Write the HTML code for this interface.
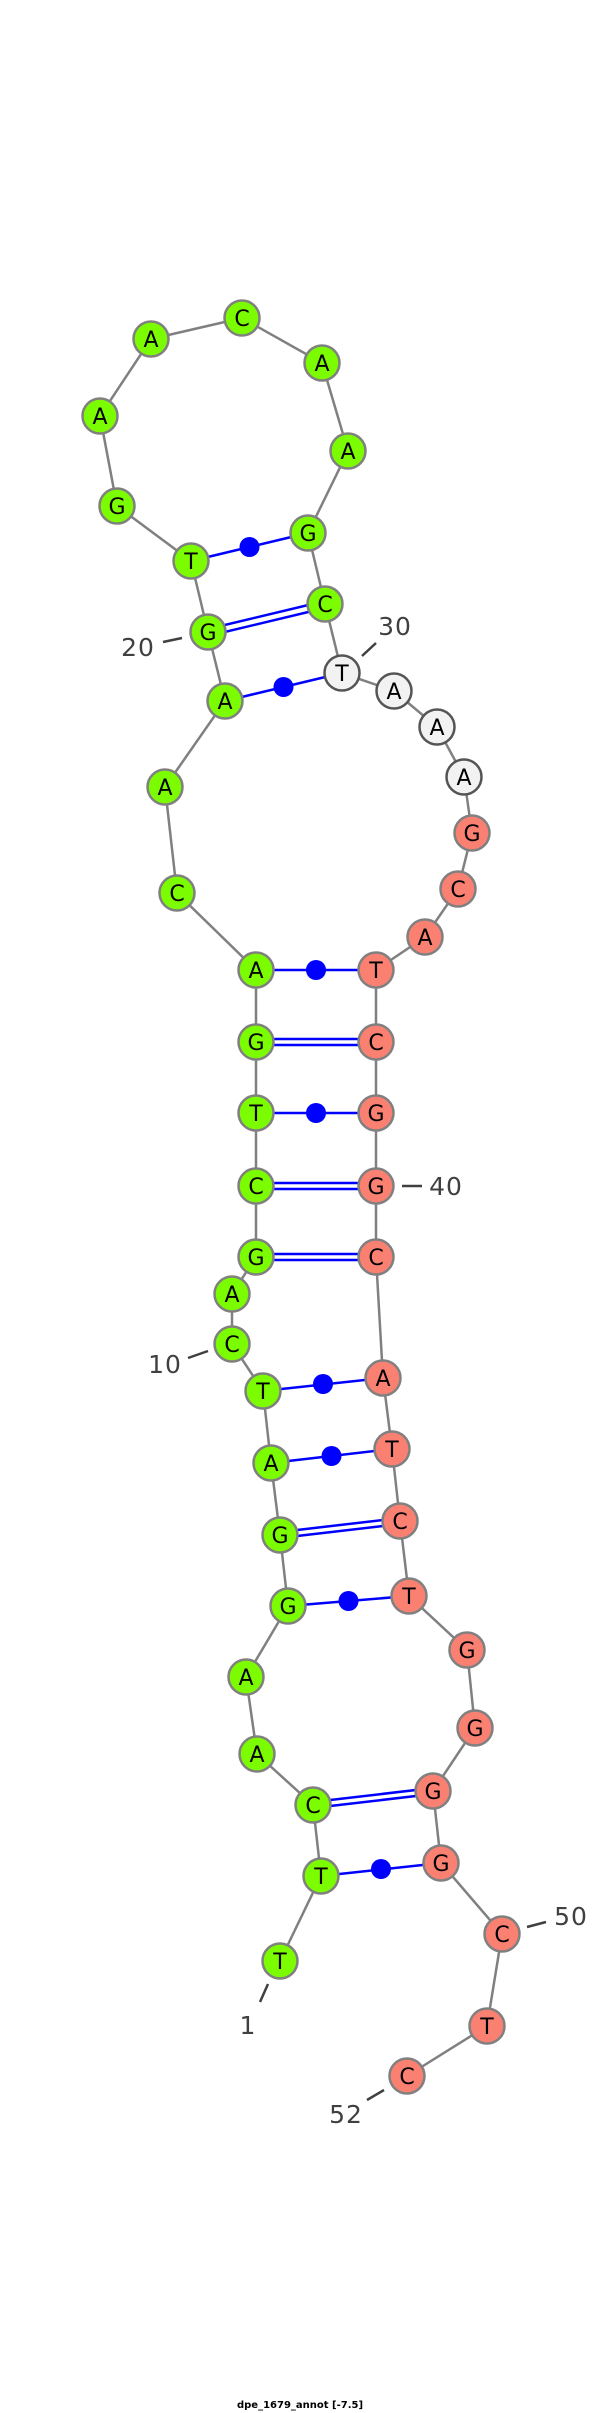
<!DOCTYPE html>
<html><head><meta charset="utf-8"><style>html,body{margin:0;padding:0;background:#fff}svg{display:block}</style></head>
<body>
<svg width="600" height="2413" viewBox="0 0 600 2413" xmlns="http://www.w3.org/2000/svg">
<polyline fill="none" stroke="#808080" stroke-width="2.5" points="280,1961 321,1876 313,1805 257,1754 246,1677 288,1606 280,1535 271,1463 263,1391 232,1344 232,1294 256,1257 256,1186 256,1113 256,1042 256,970 177,893 165,787 225,701 208,632 191,561 117,506 100,416 151,339 242,318 322,363 348,451 308,533 325,604 342,673 394,691 437,727 464,777 472,833 458,889 425,937 376,970 376,1042 376,1113 376,1186 376,1257 383,1378 392,1449 400,1521 409,1596 467,1650 475,1728 433,1791 441,1863 502,1934 487,2026 407,2076"/>
<g stroke="#0000ff" stroke-width="2.5">
<line x1="191" y1="561" x2="308" y2="533"/>
<line x1="208" y1="629" x2="325" y2="601"/><line x1="208" y1="636" x2="325" y2="608"/>
<line x1="225" y1="701" x2="342" y2="673"/>
<line x1="256" y1="970" x2="376" y2="970"/>
<line x1="256" y1="1039" x2="376" y2="1039"/><line x1="256" y1="1045" x2="376" y2="1045"/>
<line x1="256" y1="1113" x2="376" y2="1113"/>
<line x1="256" y1="1183" x2="376" y2="1183"/><line x1="256" y1="1189" x2="376" y2="1189"/>
<line x1="256" y1="1254" x2="376" y2="1254"/><line x1="256" y1="1260" x2="376" y2="1260"/>
<line x1="263" y1="1391" x2="383" y2="1378"/>
<line x1="271" y1="1463" x2="392" y2="1449"/>
<line x1="280" y1="1532" x2="400" y2="1518"/><line x1="280" y1="1538" x2="400" y2="1524"/>
<line x1="288" y1="1606" x2="409" y2="1596"/>
<line x1="313" y1="1802" x2="433" y2="1788"/><line x1="313" y1="1808" x2="433" y2="1794"/>
<line x1="321" y1="1876" x2="441" y2="1863"/>
</g>
<g fill="#0000ff">
<circle cx="249.5" cy="547" r="10"/><circle cx="283.5" cy="687" r="10"/>
<circle cx="316" cy="970" r="10"/><circle cx="316" cy="1113" r="10"/>
<circle cx="323" cy="1384" r="10"/><circle cx="331.5" cy="1456" r="10"/>
<circle cx="348.5" cy="1601" r="10"/><circle cx="381" cy="1869" r="10"/>
</g>
<g stroke="#808080" stroke-width="2.5" fill="#7cfc00">
<circle cx="280" cy="1961" r="17.5"/><circle cx="321" cy="1876" r="17.5"/><circle cx="313" cy="1805" r="17.5"/><circle cx="257" cy="1754" r="17.5"/><circle cx="246" cy="1677" r="17.5"/><circle cx="288" cy="1606" r="17.5"/><circle cx="280" cy="1535" r="17.5"/><circle cx="271" cy="1463" r="17.5"/><circle cx="263" cy="1391" r="17.5"/><circle cx="232" cy="1344" r="17.5"/><circle cx="232" cy="1294" r="17.5"/><circle cx="256" cy="1257" r="17.5"/><circle cx="256" cy="1186" r="17.5"/><circle cx="256" cy="1113" r="17.5"/><circle cx="256" cy="1042" r="17.5"/><circle cx="256" cy="970" r="17.5"/><circle cx="177" cy="893" r="17.5"/><circle cx="165" cy="787" r="17.5"/><circle cx="225" cy="701" r="17.5"/><circle cx="208" cy="632" r="17.5"/><circle cx="191" cy="561" r="17.5"/><circle cx="117" cy="506" r="17.5"/><circle cx="100" cy="416" r="17.5"/><circle cx="151" cy="339" r="17.5"/><circle cx="242" cy="318" r="17.5"/><circle cx="322" cy="363" r="17.5"/><circle cx="348" cy="451" r="17.5"/><circle cx="308" cy="533" r="17.5"/><circle cx="325" cy="604" r="17.5"/>
</g>
<g stroke="#555" stroke-width="2.5" fill="#f2f2f2">
<circle cx="342" cy="673" r="17.5"/><circle cx="394" cy="691" r="17.5"/><circle cx="437" cy="727" r="17.5"/><circle cx="464" cy="777" r="17.5"/>
</g>
<g stroke="#808080" stroke-width="2.5" fill="#fa8072">
<circle cx="472" cy="833" r="17.5"/><circle cx="458" cy="889" r="17.5"/><circle cx="425" cy="937" r="17.5"/><circle cx="376" cy="970" r="17.5"/><circle cx="376" cy="1042" r="17.5"/><circle cx="376" cy="1113" r="17.5"/><circle cx="376" cy="1186" r="17.5"/><circle cx="376" cy="1257" r="17.5"/><circle cx="383" cy="1378" r="17.5"/><circle cx="392" cy="1449" r="17.5"/><circle cx="400" cy="1521" r="17.5"/><circle cx="409" cy="1596" r="17.5"/><circle cx="467" cy="1650" r="17.5"/><circle cx="475" cy="1728" r="17.5"/><circle cx="433" cy="1791" r="17.5"/><circle cx="441" cy="1863" r="17.5"/><circle cx="502" cy="1934" r="17.5"/><circle cx="487" cy="2026" r="17.5"/><circle cx="407" cy="2076" r="17.5"/>
</g>
<g font-family="DejaVu Sans, Liberation Sans, sans-serif" font-size="22" text-anchor="middle" fill="#000">
<text x="280" y="1969">T</text><text x="321" y="1884">T</text><text x="313" y="1813">C</text><text x="257" y="1762">A</text><text x="246" y="1685">A</text><text x="288" y="1614">G</text><text x="280" y="1543">G</text><text x="271" y="1471">A</text><text x="263" y="1399">T</text><text x="232" y="1352">C</text><text x="232" y="1302">A</text><text x="256" y="1265">G</text><text x="256" y="1194">C</text><text x="256" y="1121">T</text><text x="256" y="1050">G</text><text x="256" y="978">A</text><text x="177" y="901">C</text><text x="165" y="795">A</text><text x="225" y="709">A</text><text x="208" y="640">G</text><text x="191" y="569">T</text><text x="117" y="514">G</text><text x="100" y="424">A</text><text x="151" y="347">A</text><text x="242" y="326">C</text><text x="322" y="371">A</text><text x="348" y="459">A</text><text x="308" y="541">G</text><text x="325" y="612">C</text>
<text x="342" y="681">T</text><text x="394" y="699">A</text><text x="437" y="735">A</text><text x="464" y="785">A</text>
<text x="472" y="841">G</text><text x="458" y="897">C</text><text x="425" y="945">A</text><text x="376" y="978">T</text><text x="376" y="1050">C</text><text x="376" y="1121">G</text><text x="376" y="1194">G</text><text x="376" y="1265">C</text><text x="383" y="1386">A</text><text x="392" y="1457">T</text><text x="400" y="1529">C</text><text x="409" y="1604">T</text><text x="467" y="1658">G</text><text x="475" y="1736">G</text><text x="433" y="1799">G</text><text x="441" y="1871">G</text><text x="502" y="1942">C</text><text x="487" y="2034">T</text><text x="407" y="2084">C</text>
</g>
<g stroke="#404040" stroke-width="2.5">
<line x1="163" y1="642" x2="182" y2="638"/><line x1="362" y1="656" x2="376" y2="643"/>
<line x1="402" y1="1186" x2="422" y2="1186"/><line x1="188" y1="1358" x2="208" y2="1351"/>
<line x1="527" y1="1927" x2="546" y2="1922"/><line x1="268" y1="1984" x2="260" y2="2002"/>
<line x1="367" y1="2100" x2="384" y2="2090"/>
</g>
<g font-family="DejaVu Sans, Liberation Sans, sans-serif" font-size="25" text-anchor="middle" fill="#404040" letter-spacing="1">
<text x="138" y="656">20</text><text x="395" y="635">30</text><text x="446" y="1195">40</text><text x="165" y="1373">10</text><text x="571" y="1925">50</text><text x="248" y="2034">1</text><text x="346" y="2123">52</text>
</g>
<text x="300" y="2408" font-family="DejaVu Sans, Liberation Sans, sans-serif" font-size="10" font-weight="bold" text-anchor="middle" fill="#000">dpe_1679_annot [-7.5]</text>
</svg>
</body></html>
